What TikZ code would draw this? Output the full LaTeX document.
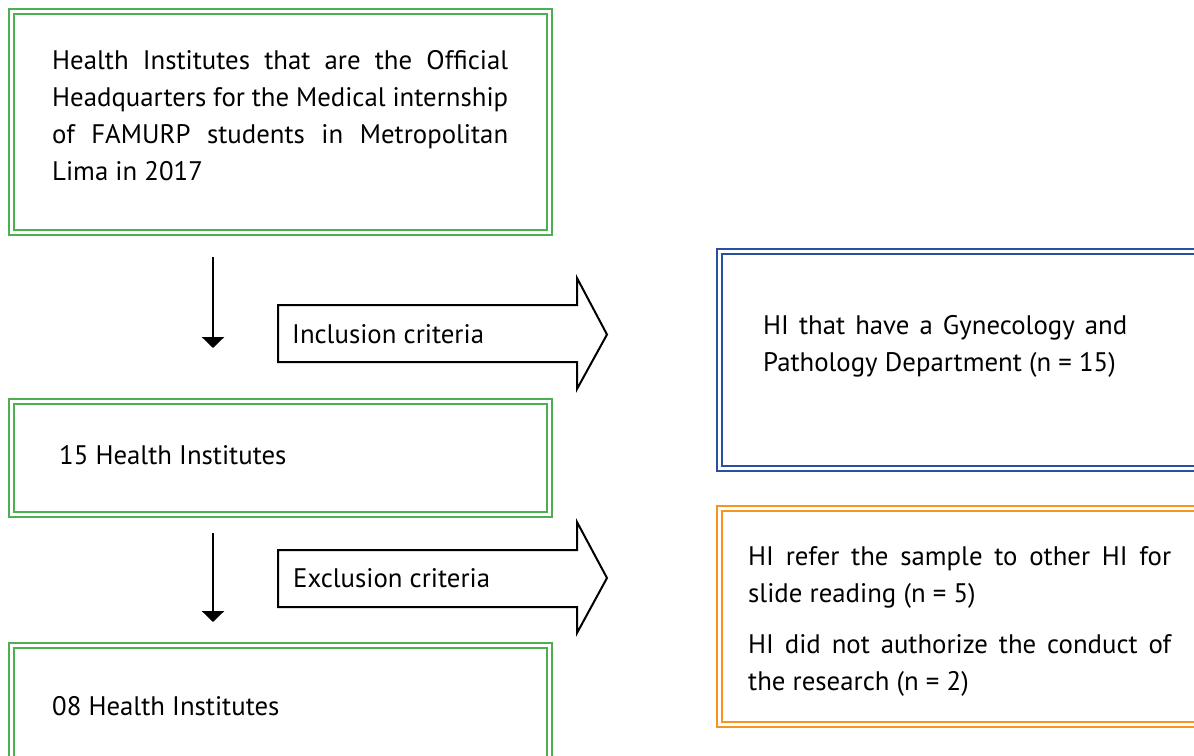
\documentclass[tikz,border=0pt]{standalone}
\usepackage{fontspec}
\setmainfont{PT Sans}
\usetikzlibrary{arrows.meta}
\definecolor{hgreen}{RGB}{76,175,80}
\definecolor{hblue}{RGB}{40,80,160}
\definecolor{horange}{RGB}{247,148,29}
\hyphenpenalty=10000
\exhyphenpenalty=10000
\begin{document}
\begin{tikzpicture}[x=1pt,y=-1pt,
  dbox/.style={draw=#1,double,double distance=3.5pt,line width=2.2pt,rectangle,inner sep=0pt},
  txt/.style={font=\fontsize{26.8}{37}\selectfont,inner sep=0pt,anchor=north west,align=justify},
  downarrow/.style={line width=2.6pt,-{Triangle[width=22pt,length=11pt]}},
  blockarrow/.style={draw=black,line width=2pt,line join=miter,fill=white}]
\useasboundingbox (0,0) rectangle (1194,755);
% green boxes
\node[dbox=hgreen,minimum width=538pt,minimum height=221pt] (b1) at (280.5,122) {};
\node[dbox=hgreen,minimum width=538pt,minimum height=113pt] (b2) at (280.5,458) {};
\node[dbox=hgreen,minimum width=538pt,minimum height=124pt] (b3) at (280.5,707.5) {};
% right boxes
\node[dbox=hblue,minimum width=490pt,minimum height=217pt] (bi) at (964.5,360) {};
\node[dbox=horange,minimum width=490pt,minimum height=216pt] (be) at (964.5,616.5) {};
% texts
\node[txt,text width=456pt] (t1) at (52,50) {Health Institutes that are the Official\linebreak
 {\spaceskip=0.12em plus 1em minus 0.1em Headquarters for the Medical internship}\linebreak
 of FAMURP students in Metropolitan\linebreak Lima in 2017};
\node[txt,anchor=west] (t2) at (59,455) {15 Health Institutes};
\node[txt,anchor=west] (t3) at (52,706) {08 Health Institutes};
\node[txt,text width=364pt] (ti) at (763,315) {HI that have a Gynecology and\linebreak Pathology Department (n = 15)};
\node[txt,text width=423pt] (te) at (748,546) {HI refer the sample to other HI for\linebreak slide reading (n = 5)\par\vspace{14pt}HI did not authorize the conduct of\linebreak the research (n = 2)};
% down arrows
\coordinate (d1s) at (213,257); \coordinate (d1e) at (213,348);
\coordinate (d2s) at (213,533); \coordinate (d2e) at (213,622);
\draw[downarrow] (d1s) -- (d1e);
\draw[downarrow] (d2s) -- (d2e);
% block arrows
\draw[blockarrow] (278,305) -- (577,305) -- (577,278) -- (607,334.5) -- (577,389) -- (577,362) -- (278,362) -- cycle;
\node[txt,anchor=west] (li) at (292,334) {Inclusion criteria};
\draw[blockarrow] (278,550) -- (577,550) -- (577,522) -- (607,578) -- (577,633) -- (577,607) -- (278,607) -- cycle;
\node[txt,anchor=west] (le) at (293,578) {Exclusion criteria};
\end{tikzpicture}
\end{document}
